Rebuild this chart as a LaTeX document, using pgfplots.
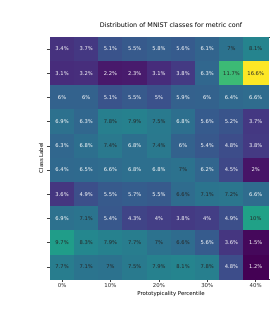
\documentclass[border=0pt]{standalone}
\usepackage{pgfplots}
\pgfplotsset{compat=1.18}
\usepackage{pgfplotstable}
\usepackage{fontspec}
\setmainfont{DejaVu Sans}
\usetikzlibrary{calc}

\pgfplotstableread{
x y c
0 0 3.4
1 0 3.7
2 0 5.1
3 0 5.5
4 0 5.8
5 0 5.6
6 0 6.1
7 0 7.0
8 0 8.1
0 1 3.1
1 1 3.2
2 1 2.2
3 1 2.3
4 1 3.1
5 1 3.8
6 1 6.3
7 1 11.7
8 1 16.6
0 2 6.0
1 2 6.0
2 2 5.1
3 2 5.5
4 2 5.0
5 2 5.9
6 2 6.0
7 2 6.4
8 2 6.6
0 3 6.9
1 3 6.3
2 3 7.8
3 3 7.9
4 3 7.5
5 3 6.8
6 3 5.6
7 3 5.2
8 3 3.7
0 4 6.3
1 4 6.8
2 4 7.4
3 4 6.8
4 4 7.4
5 4 6.0
6 4 5.4
7 4 4.8
8 4 3.8
0 5 6.4
1 5 6.5
2 5 6.6
3 5 6.8
4 5 6.8
5 5 7.0
6 5 6.2
7 5 4.5
8 5 2.0
0 6 3.6
1 6 4.9
2 6 5.5
3 6 5.7
4 6 5.5
5 6 6.6
6 6 7.1
7 6 7.2
8 6 6.6
0 7 6.9
1 7 7.1
2 7 5.4
3 7 4.3
4 7 4.0
5 7 3.8
6 7 4.0
7 7 4.9
8 7 10.0
0 8 9.7
1 8 8.3
2 8 7.9
3 8 7.7
4 8 7.0
5 8 6.6
6 8 5.6
7 8 3.6
8 8 1.5
0 9 7.7
1 9 7.1
2 9 7.0
3 9 7.5
4 9 7.9
5 9 8.1
6 9 7.8
7 9 4.8
8 9 1.2
}\heat

\begin{document}
\begin{tikzpicture}
\begin{axis}[name=ax, scale only axis, width=242pt, height=242pt,
  xmin=-0.5, xmax=9.5, ymin=-0.5, ymax=9.5, y dir=reverse,
  colormap/viridis, point meta min=1.2, point meta max=16.6,
  /pgf/number format/assume math mode=true,
  axis line style={black!75, line width=0.6pt},
  xtick={0,2,4,6,8}, xticklabels={0\%,10\%,20\%,30\%,40\%},
  ytick={0,...,9}, yticklabels={},
  xtick pos=left, ytick pos=left,
  tick align=outside, major tick length=3pt,
  tick style={black!75, line width=0.5pt},
  ticklabel style={font=\fontsize{5.4}{6}\selectfont, text=black!85},
  xticklabel style={anchor=base, yshift=-5.5pt},
  title={Distribution of MNIST classes for metric conf},
  title style={font=\fontsize{6.4}{7}\selectfont, at={(axis description cs:0.5,1)}, anchor=base, yshift=3.5pt},
  xlabel={Prototypicality Percentile},
  xlabel style={font=\fontsize{5.4}{6}\selectfont, at={(axis description cs:0.5,0)}, anchor=base, yshift=-16pt},
  ylabel={Class Label},
  every axis y label/.style={font=\fontsize{5.4}{6}\selectfont, at={(axis description cs:-0.037,0.5)}, anchor=center, rotate=90},
  nodes near coords={\pgfmathprintnumber[fixed,precision=1]{\pgfplotspointmeta}\%},
  nodes near coords align=center,
]
\addplot[matrix plot*, mesh/cols=9, point meta=explicit, nodes near coords=] table[x=x, y=y, meta=c] {\heat};
% white labels
\addplot[only marks, mark=none, point meta=explicit,
  every node near coord/.append style={font=\fontsize{5.2}{6}\selectfont, text=white, anchor=center}]
  coordinates {
  (0,0)[3.4] (1,0)[3.7] (2,0)[5.1] (3,0)[5.5] (4,0)[5.8] (5,0)[5.6] (6,0)[6.1]
  (0,1)[3.1] (1,1)[3.2] (2,1)[2.2] (3,1)[2.3] (4,1)[3.1] (5,1)[3.8] (6,1)[6.3]
  (0,2)[6.0] (1,2)[6.0] (2,2)[5.1] (3,2)[5.5] (4,2)[5.0] (5,2)[5.9] (6,2)[6.0] (7,2)[6.4] (8,2)[6.6]
  (0,3)[6.9] (1,3)[6.3] (5,3)[6.8] (6,3)[5.6] (7,3)[5.2] (8,3)[3.7]
  (0,4)[6.3] (1,4)[6.8] (3,4)[6.8] (5,4)[6.0] (6,4)[5.4] (7,4)[4.8] (8,4)[3.8]
  (0,5)[6.4] (1,5)[6.5] (2,5)[6.6] (3,5)[6.8] (4,5)[6.8] (6,5)[6.2] (7,5)[4.5] (8,5)[2.0]
  (0,6)[3.6] (1,6)[4.9] (2,6)[5.5] (3,6)[5.7] (4,6)[5.5] (8,6)[6.6]
  (0,7)[6.9] (2,7)[5.4] (3,7)[4.3] (4,7)[4.0] (5,7)[3.8] (6,7)[4.0] (7,7)[4.9]
  (6,8)[5.6] (7,8)[3.6] (8,8)[1.5]
  (7,9)[4.8] (8,9)[1.2]
  };
% dark labels
\addplot[only marks, mark=none, point meta=explicit,
  every node near coord/.append style={font=\fontsize{5.2}{6}\selectfont, text=black!85, anchor=center}]
  coordinates {
  (7,0)[7.0] (8,0)[8.1]
  (7,1)[11.7] (8,1)[16.6]
  (2,3)[7.8] (3,3)[7.9] (4,3)[7.5]
  (2,4)[7.4] (4,4)[7.4]
  (5,5)[7.0]
  (5,6)[6.6] (6,6)[7.1] (7,6)[7.2]
  (1,7)[7.1] (8,7)[10.0]
  (0,8)[9.7] (1,8)[8.3] (2,8)[7.9] (3,8)[7.7] (4,8)[7.0] (5,8)[6.6]
  (0,9)[7.7] (1,9)[7.1] (2,9)[7.0] (3,9)[7.5] (4,9)[7.9] (5,9)[8.1] (6,9)[7.8]
  };
\end{axis}
\pgfresetboundingbox
\path[use as bounding box] ($(ax.south west)+(-50pt,-35pt)$) rectangle ($(ax.north west)+(219pt,37pt)$);
\end{tikzpicture}
\end{document}
